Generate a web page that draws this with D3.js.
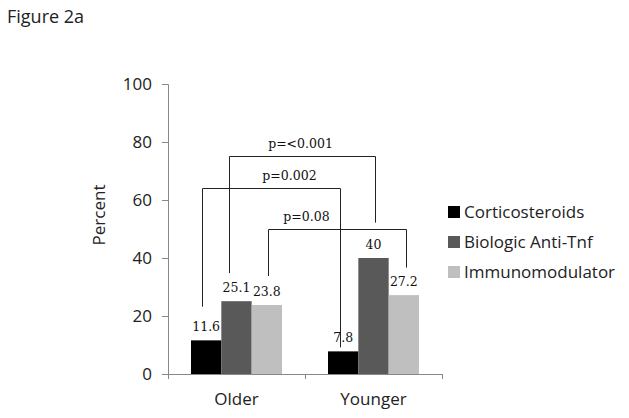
<!DOCTYPE html>
<html><head><meta charset="utf-8">
<script src="https://cdn.jsdelivr.net/npm/d3@7"></script>
<style>body{margin:0;background:#fff}svg{display:block}</style>
</head><body>
<svg id="c" width="629" height="418"></svg>
<script>
const categories = ["Older", "Younger"];
const seriesNames = ["Corticosteroids", "Biologic Anti-Tnf", "Immunomodulator"];
const corticosteroids = [11.6, 7.8];
const biologicAntiTnf = [25.1, 40];
const immunomodulator = [23.8, 27.2];
const yTicks = [0, 20, 40, 60, 80, 100];
const pLabels = ["p=<0.001", "p=0.002", "p=0.08"];
const bracketSeries = [1, 0, 2];
const bracketTop = [75.2, 64, 49.9];
const bracketLeftEnd = [34.8, 23.2, 33.8];
const bracketRightEnd = [52.2, 9.2, 36.7];

const seriesValues = [corticosteroids, biologicAntiTnf, immunomodulator];
const colors = ["#000000", "#595959", "#bfbfbf"];
const svg = d3.select("#c");
const sans = "'Open Sans', sans-serif";
const serif = "'DejaVu Serif', serif";

const x0 = d3.scaleBand().domain(categories).range([168, 442]).padding(0);
const x1 = d3.scaleBand().domain(d3.range(3)).range([0, x0.bandwidth()]).paddingInner(0).paddingOuter(0.758);
const y = d3.scaleLinear().domain([0, 100]).range([374, 84]);

svg.append("text").attr("x", 7).attr("y", 23).attr("font-family", sans).attr("font-size", 18).attr("fill", "#222").text("Figure 2a");

// y axis
const gy = svg.append("g").attr("transform", "translate(168,0)")
  .call(d3.axisLeft(y).tickValues(yTicks).tickSize(6).tickPadding(10));
gy.select(".domain").attr("stroke", "#888").attr("d", "M-6,84.5H0.5V374.5");
gy.selectAll(".tick line").attr("stroke", "#888");
gy.selectAll(".tick text").attr("font-family", sans).attr("font-size", 17).attr("fill", "#222");

// x axis
svg.append("line").attr("x1", 168).attr("x2", 442).attr("y1", 374.5).attr("y2", 374.5).attr("stroke", "#888");
const tickXs = [x0.range()[0], x0(categories[1]), x0.range()[1]];
svg.selectAll(".xt").data(tickXs).join("line").attr("x1", d => d + 0.5).attr("x2", d => d + 0.5)
  .attr("y1", 374).attr("y2", 379).attr("stroke", "#888");
svg.selectAll(".cat").data(categories).join("text")
  .attr("x", d => x0(d) + x0.bandwidth() / 2).attr("y", 405).attr("text-anchor", "middle")
  .attr("font-family", sans).attr("font-size", 17).attr("fill", "#222").text(d => d);

svg.append("text").attr("transform", "translate(105,215) rotate(-90)").attr("text-anchor", "middle")
  .attr("font-family", sans).attr("font-size", 17).attr("fill", "#222").text("Percent");

// bars
const barData = [];
seriesValues.forEach((vals, s) => vals.forEach((v, c) => barData.push({ s, c, v })));
svg.selectAll(".bar").data(barData).join("rect")
  .attr("x", d => x0(categories[d.c]) + x1(d.s))
  .attr("width", x1.bandwidth())
  .attr("y", d => y(d.v)).attr("height", d => y(0) - y(d.v))
  .attr("fill", d => colors[d.s]);
svg.selectAll(".val").data(barData).join("text")
  .attr("x", d => x0(categories[d.c]) + x1(d.s) + x1.bandwidth() / 2)
  .attr("y", d => y(d.v) - 9).attr("text-anchor", "middle")
  .attr("font-family", serif).attr("font-size", 12.5).attr("fill", "#111").text(d => d.v);

// brackets
const leftDx = [-8, -4, 1];
const rightDx = [1, -3, 2];
const labelDx = [-2, 18, -31];
const cx = (c, s) => x0(categories[c]) + x1(s) + x1.bandwidth() / 2;
pLabels.forEach((lab, i) => {
  const s = bracketSeries[i];
  const xl = Math.round(cx(0, s) + leftDx[i]) + 0.5;
  const xr = Math.round(cx(1, s) + rightDx[i]) + 0.5;
  const yt = Math.round(y(bracketTop[i])) + 0.5;
  svg.append("path")
    .attr("d", `M${xl},${y(bracketLeftEnd[i])}V${yt}H${xr}V${y(bracketRightEnd[i])}`)
    .attr("fill", "none").attr("stroke", "#222").attr("stroke-width", 1);
  svg.append("text").attr("x", (xl + xr) / 2 + labelDx[i]).attr("y", yt - 9)
    .attr("text-anchor", "middle").attr("font-family", serif).attr("font-size", 12.5)
    .attr("fill", "#111").text(lab);
});

// legend
const lg = svg.selectAll(".lg").data(seriesNames).join("g")
  .attr("transform", (d, i) => `translate(448,${206 + i * 30})`);
lg.append("rect").attr("width", 12).attr("height", 12).attr("fill", (d, i) => colors[i]);
lg.append("text").attr("x", 16).attr("y", 11.5).attr("font-family", sans).attr("font-size", 17)
  .attr("fill", "#222").text(d => d);
</script>
</body></html>
